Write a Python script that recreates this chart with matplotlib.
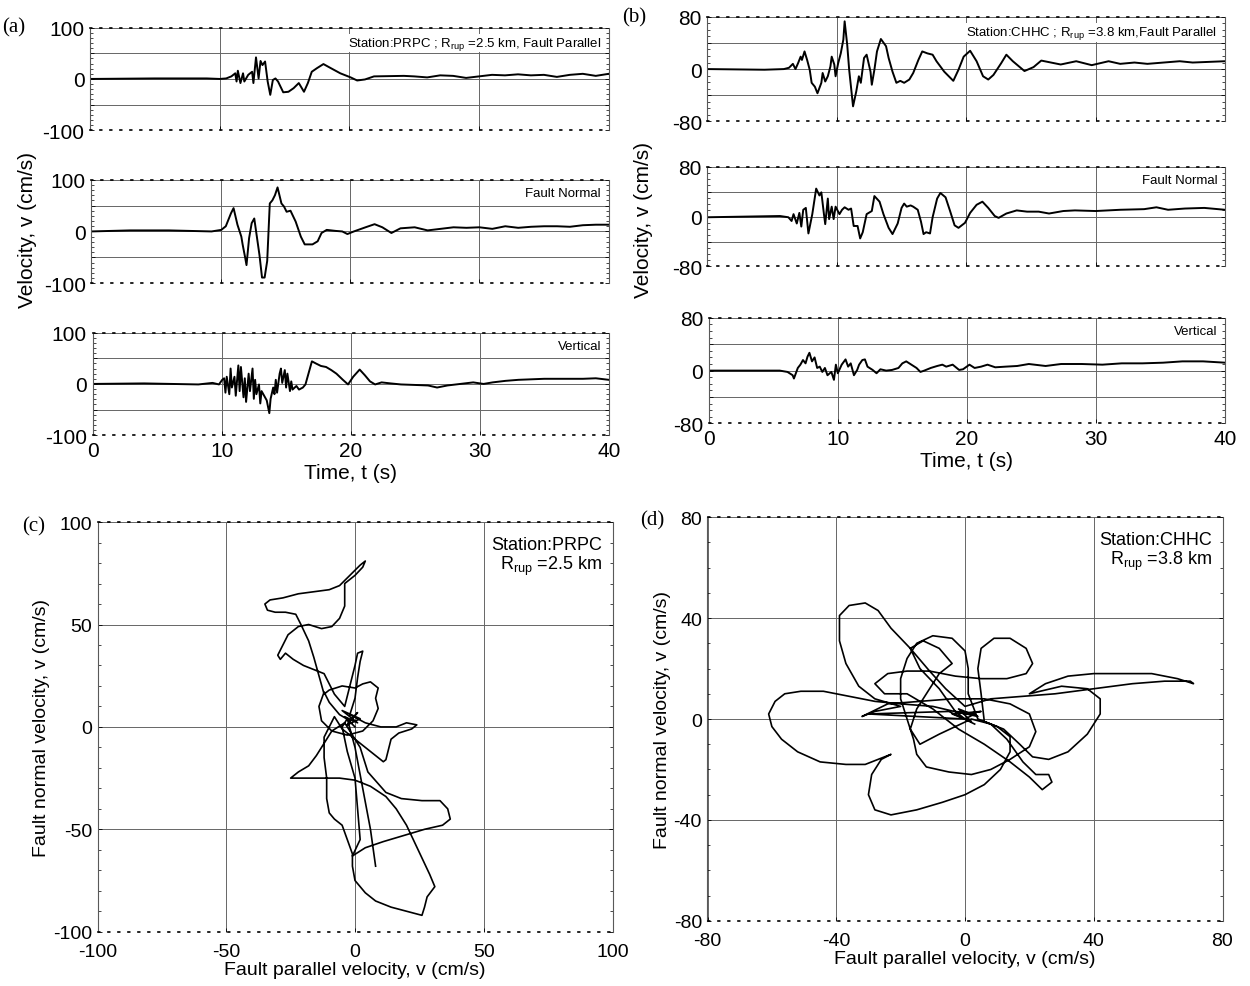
import matplotlib
matplotlib.use("Agg")
import matplotlib.pyplot as plt

plt.rcParams['font.family'] = ['Liberation Sans', 'DejaVu Sans']
plt.rcParams['mathtext.fontset'] = 'custom'
plt.rcParams['mathtext.rm'] = 'Liberation Sans'
plt.rcParams['mathtext.default'] = 'rm'
plt.rcParams['axes.unicode_minus'] = False

# ---- (a) station PRPC, velocity time histories (cm/s) ----
a_fp_t = [0, 5, 9, 10, 10.5, 10.9, 11.2, 11.3, 11.4, 11.6, 11.8, 11.9, 12.2, 12.5, 12.6, 12.8, 13.0, 13.15, 13.3, 13.5,
          13.7, 13.9, 14.1, 14.3, 14.5, 14.9, 15.3, 15.7, 16.1, 16.5, 16.8, 17.1, 17.5, 18.0, 18.5, 19.3, 20.1, 20.6, 21.2, 21.9,
          24.2, 25, 26, 27, 28, 29, 30, 31, 32, 33, 34, 35, 36, 37, 38, 39, 40]
a_fp_v = [0, 1, 1, 0, 1, 5, 11, -5, 16, -8, 11, -5, 8, 14, -8, 42, 1, 35, 27, 34,
          -5, -31, -2, 1, -5, -26, -25, -18, -8, -25, -8, 14, 21, 29, 22, 11, 3, -3, -1, 5,
          6, 5, 3, 7, 6, 2, 5, 8, 7, 9, 7, 8, 4, 8, 10, 6, 10]

a_fn_t = [0, 3, 6, 9.3, 10.05, 10.4, 10.8, 11.0, 11.3, 11.6, 11.7, 11.9, 12.0, 12.2, 12.4, 12.6, 12.8, 13.0, 13.2, 13.4,
          13.6, 13.8, 14.0, 14.2, 14.4, 14.7, 14.9, 15.1, 15.4, 15.8, 16.2, 16.5, 17.1, 17.5, 17.8, 18.2, 18.9, 19.4, 19.8, 20.3,
          21.2, 21.9, 22.5, 23.2, 23.9, 25, 26, 27, 28, 29, 30, 31, 32, 33, 34, 35, 36, 37, 38, 39, 40]
a_fn_v = [0, 2, 2, 0, 3, 10, 35, 45, 13, -10, -25, -51, -65, -13, 16, 25, -10, -45, -89, -89,
          -57, 54, 60, 70, 85, 54, 48, 38, 40, 19, -10, -25, -25, -19, -3, 3, 1, 0, -5, 0,
          8, 14, 8, -3, 6, 8, 2, 5, 8, 7, 8, 5, 10, 7, 9, 10, 10, 9, 12, 13, 13]

a_up_t = [0, 4, 8.2, 9.3, 9.8, 10.05, 10.2, 10.3, 10.4, 10.6, 10.7, 10.8, 11.0, 11.1, 11.3, 11.4, 11.5, 11.7, 11.8, 11.9,
          12.1, 12.2, 12.4, 12.5, 12.6, 12.7, 12.9, 13.0, 13.1, 13.3, 13.5, 13.7, 13.8, 14.0, 14.1, 14.2, 14.3, 14.5, 14.6, 14.7,
          14.9, 15.0, 15.1, 15.3, 15.4, 15.5, 15.8, 16.0, 16.3, 16.5, 16.7, 17.0, 17.3, 17.7, 18.1, 18.5, 18.9, 19.4, 19.8, 20.2,
          20.7, 21.1, 21.5, 21.9, 22.4, 23.1, 23.9, 25, 26, 26.7, 27.5, 28.5, 29.5, 30.3, 31, 32, 33, 34, 35, 36,
          37, 38, 39, 40]
a_up_v = [0, 1, -1, 2, -1, 8, 11, -17, 14, -20, 30, -7, 14, -23, 36, -14, 33, -26, 11, -35,
          20, -14, 30, -29, 8, -20, -1, -38, -14, -23, -32, -57, -29, -7, -20, 8, -17, 20, 30, 2,
          27, -7, 20, -14, 5, -11, -4, -11, -7, -1, 17, 44, 40, 35, 33, 27, 20, 8, -1, 14,
          28, 17, 5, -1, 3, 1, -1, -2, -3, -7, -3, 0, 3, 0, 3, 6, 8, 9, 10, 10,
          10, 10, 11, 8]

# ---- (b) station CHHC ----
b_fp_t = [0, 4.4, 5.9, 6.3, 6.6, 6.8, 7.0, 7.2, 7.3, 7.5, 7.7, 7.9, 8.05, 8.3, 8.5, 8.8, 8.9, 9.1, 9.3, 9.5,
          9.6, 9.8, 9.9, 10.1, 10.3, 10.5, 10.6, 10.8, 10.95, 11.1, 11.25, 11.5, 11.7, 11.85, 12.1, 12.3, 12.6, 12.7, 12.9, 13.1,
          13.4, 13.8, 14.0, 14.3, 14.6, 14.9, 15.2, 15.6, 15.9, 16.3, 16.6, 17.0, 17.4, 17.7, 18.3, 18.8, 19.0, 19.4, 19.8, 20.3,
          20.8, 21.3, 21.7, 22.1, 22.7, 23.1, 23.6, 24.2, 24.5, 25.2, 25.8, 27.3, 28.5, 29.7, 31, 31.9, 33, 34, 36.5, 37.5,
          40]
b_fp_v = [0, -1, 0, 2, 8, 0, 9, 19, 14, 27, 14, -1, -21, -27, -37, -21, -6, -19, -11, 4,
          19, 7, -11, 9, 24, 45, 73, 37, -1, -29, -57, -34, -11, -21, 17, 22, -4, -24, -1, 27,
          46, 35, 17, -4, -21, -18, -21, -16, -6, 14, 27, 24, 22, 12, -4, -14, -18, -1, 19, 28,
          12, -11, -16, -9, 9, 22, 12, 2, -3, 3, 13, 7, 12, 6, 12, 8, 10, 8, 12, 10,
          12]

b_fn_t = [0, 5.6, 6.25, 6.5, 6.65, 6.9, 7.1, 7.25, 7.4, 7.6, 7.8, 8.1, 8.4, 8.65, 8.8, 9.0, 9.1, 9.3, 9.4, 9.6,
          9.75, 9.9, 10.2, 10.4, 10.6, 10.9, 11.1, 11.3, 11.6, 11.8, 12.0, 12.3, 12.7, 12.9, 13.3, 13.6, 14.0, 14.3, 14.7, 15.0,
          15.2, 15.4, 15.7, 15.9, 16.25, 16.5, 16.7, 16.9, 17.2, 17.4, 17.75, 18.0, 18.4, 18.75, 19.1, 19.4, 19.9, 20.3, 20.8, 21.25,
          21.7, 22.2, 22.5, 23.1, 23.9, 24.7, 25.6, 26.4, 27.5, 28.4, 30, 31.9, 33.75, 34.7, 35.6, 36.9, 38.4, 40]
b_fn_v = [-1, 1, -1, -7, 4, -11, 6, -16, 11, 14, -27, 4, 45, 34, 39, 4, -12, 29, -4, 16,
          -4, 16, 4, 11, 15, 11, 13, -15, -15, -35, -25, 4, 9, 33, 24, 4, -18, -28, -11, 14,
          21, 16, 18, 16, 11, -8, -28, -25, -27, -1, 29, 38, 31, 9, -14, -18, -10, 6, 19, 24,
          14, 1, -2, 5, 10, 8, 8, 5, 9, 10, 9, 11, 12, 15, 11, 13, 14, 11]

b_up_t = [0, 5.5, 6.1, 6.5, 6.6, 6.9, 7.1, 7.3, 7.5, 7.65, 7.8, 8.0, 8.2, 8.4, 8.6, 8.8, 9.0, 9.2, 9.5, 9.7,
          9.85, 10.0, 10.3, 10.6, 10.8, 11.0, 11.25, 11.5, 11.65, 11.9, 12.1, 12.3, 12.7, 13.0, 13.3, 13.75, 14.2, 14.7, 15.0, 15.3,
          15.7, 16.1, 16.4, 16.7, 17.2, 17.7, 18.1, 18.4, 18.9, 19.4, 19.7, 20.2, 20.6, 21.1, 21.6, 22.2, 23.0, 23.9, 24.8, 26.1,
          27.3, 28.9, 30.5, 32, 33.6, 35.2, 36.7, 38.3, 40]
b_up_v = [0, 0, -2, -7, -12, 4, 9, 16, 11, 21, 27, 14, 20, 4, 6, -2, 4, -7, -2, -14,
          9, -4, 9, 17, 6, 11, -7, 1, 9, 16, 17, 6, 1, -4, 2, 0, 1, 4, 11, 14,
          9, 4, -2, 0, 4, 7, 9, 6, 9, 1, 2, 9, 4, 6, 9, 5, 6, 7, 10, 7,
          10, 10, 9, 11, 11, 12, 14, 14, 12]

# ---- (c) PRPC particle motion (fault parallel, fault normal) ----
c_fp = [0, -4, 1, -5, 2, -3, 1, -2, -6, -10, -12, -14, -13, -9, -3, 3, 7, 9, 8, 9,
        6, 3, 0, -5, -10, -12, -14, -16, -18, -21, -23, -27, -31, -34, -35, -33, -28, -22, -16, -10,
        -6, -2, 2, 4, 3, 0, -4, -4, -4, -6, -9, -13, -18, -22, -26, -28, -30, -29, -27, -24,
        -20, -16, -12, -10, -8, -4, -2, 0, 1, 3, 2, 1, 0, -2, 4, 10, 16, 20, 24, 22,
        17, 14, 13, 12, 11, 6, 0, -5, -8, -12, -12, -11, -11, -10, -8, -5, -3, -1, -1, 0,
        4, 8, 14, 20, 26, 27, 28, 31, 29, 26, 23, 20, 16, 12, 6, 0, -6, -14, -20, -25,
        -22, -18, -15, -12, -9, -4, 2, 5, 12, 18, 26, 33, 36, 37, 34, 27, 19, 11, 4, -1,
        2, 1, 0, -3, -5, -3, 0, 3, 6, 8]
c_fn = [0, 5, 2, 8, 4, 1, 7, 3, 6, 12, 17, 10, 3, -2, -4, -2, 3, 9, 14, 19,
        22, 21, 19, 20, 18, 16, 25, 34, 42, 50, 55, 56, 56, 57, 60, 62, 63, 65, 66, 67,
        69, 74, 79, 81, 78, 74, 70, 64, 59, 53, 49, 48, 50, 49, 45, 40, 35, 33, 36, 33,
        30, 28, 26, 21, 16, 10, 20, 30, 36, 37, 32, 24, 14, 6, 2, 0, 0, 2, 1, -1,
        -3, -6, -11, -16, -17, -12, -6, -1, 5, -5, -15, -25, -35, -42, -45, -48, -55, -62, -68, -75,
        -81, -85, -88, -90, -92, -88, -83, -78, -72, -64, -56, -48, -40, -34, -29, -26, -25, -25, -25, -25,
        -22, -19, -14, -8, -2, 2, -10, -22, -32, -35, -36, -36, -40, -45, -48, -50, -53, -56, -59, -63,
        -55, -40, -25, -12, 0, 4, -10, -30, -50, -68]

# ---- (d) CHHC particle motion ----
d_fp = [0, 3, -3, 4, -2, 2, -4, 5, 0, -10, -20, -28, -36, -44, -51, -56, -59, -61, -60, -57,
        -52, -45, -37, -31, -27, -23, -26, -29, -30, -28, -23, -15, -7, 0, 6, 11, 14, 14, 10, 4,
        1, 1, 0, -4, -10, -15, -18, -20, -20, -18, -16, -15, -12, -5, 2, 8, 14, 20, 22, 20,
        14, 6, -4, -14, -24, -32, -28, -20, -28, -33, -37, -39, -39, -36, -31, -27, -23, -17, -11, -6,
        0, 8, 18, 28, 40, 52, 62, 70, 71, 66, 58, 48, 40, 32, 25, 20, 30, 38, 42, 42,
        38, 32, 26, 21, 17, 12, 6, 5, 4, 5, 9, 14, 19, 21, 19, 13, 5, -3, -11, -18,
        -24, -28, -25, -18, -10, -2, 6, 14, 20, 24, 27, 26, 22, 18, 13, 8, 2, -8, -14, -17,
        -15, -12, -8, -4, -8, -13, -17, -14, -8, -3, 0, -30, -5, 3]
d_fn = [0, 2, 3, 1, 4, -1, 2, 3, 2, 5, 6, 7, 9, 11, 11, 10, 7, 2, -3, -8,
        -13, -17, -18, -18, -16, -14, -16, -22, -30, -36, -38, -36, -33, -30, -26, -20, -13, -7, -3, 0,
        10, 20, 27, 32, 33, 30, 24, 16, 8, 0, -8, -14, -19, -21, -22, -20, -16, -11, -5, 2,
        6, 8, 8, 7, 6, 1, 3, 5, 8, 13, 22, 31, 41, 45, 46, 43, 36, 28, 19, 12,
        5, 8, 9, 10, 12, 14, 15, 15, 14, 16, 18, 18, 18, 17, 14, 10, 13, 12, 8, 2,
        -6, -13, -16, -15, -10, -4, -1, 10, 20, 28, 32, 32, 28, 22, 18, 16, 16, 17, 19, 19,
        18, 14, 10, 10, 4, -4, -10, -17, -23, -28, -25, -22, -22, -17, -8, -2, 0, -6, -10, -4,
        4, 10, 18, 22, 28, 31, 28, 20, 12, 3, 0, 2, 3, -2]

ts_panels = [
    # (data t, data v, ylimit, label, rect)
    (a_fp_t, a_fp_v, 100, 'Station:PRPC ; R$_{rup}$ =2.5 km, Fault Parallel', [0.072, 0.867, 0.415, 0.104]),
    (a_fn_t, a_fn_v, 100, 'Fault Normal', [0.073, 0.712, 0.414, 0.105]),
    (a_up_t, a_up_v, 100, 'Vertical', [0.074, 0.558, 0.413, 0.104]),
    (b_fp_t, b_fp_v, 80, 'Station:CHHC ; R$_{rup}$ =3.8 km,Fault Parallel', [0.566, 0.876, 0.414, 0.106]),
    (b_fn_t, b_fn_v, 80, 'Fault Normal', [0.566, 0.729, 0.414, 0.101]),
    (b_up_t, b_up_v, 80, 'Vertical', [0.567, 0.570, 0.413, 0.107]),
]

fig = plt.figure(figsize=(12.5, 9.87), dpi=100)


def frame(ax, size=15):
    for s in ['top', 'bottom']:
        ax.spines[s].set_linestyle((0, (1, 5)))
        ax.spines[s].set_linewidth(1.2)
    for s in ['left', 'right']:
        ax.spines[s].set_color('0.35')
        ax.spines[s].set_linewidth(0.8)
    ax.grid(True, color='0.4', lw=0.7)
    ax.tick_params(direction='in', length=3, width=0.6, labelsize=size, pad=4,
                   right=True, top=False)
    ax.minorticks_on()
    ax.tick_params(which='minor', direction='in', length=2, width=0.5, right=True, bottom=False)


for i, (t, v, lim, txt, rect) in enumerate(ts_panels):
    ax = fig.add_axes(rect)
    ax.plot(t, v, color='black', lw=1.4)
    ax.set_xlim(0, 40)
    ax.set_ylim(-lim, lim)
    ax.set_xticks([0, 10, 20, 30, 40])
    ax.set_yticks([-lim, -lim / 2, 0, lim / 2, lim])
    ax.set_yticklabels([str(-lim), '', '0', '', str(lim)])
    frame(ax)
    if i % 3 == 2:
        ax.set_xlabel('Time, t (s)', fontsize=15, labelpad=2)
    else:
        ax.set_xticklabels([])
    ax.text(0.985, 0.93, txt, transform=ax.transAxes, ha='right', va='top', fontsize=9.5,
            bbox=dict(facecolor='white', edgecolor='none', pad=0.5))

fig.text(0.022, 0.767, 'Velocity, v (cm/s)', rotation=90, ha='center', va='center', fontsize=15)
fig.text(0.515, 0.777, 'Velocity, v (cm/s)', rotation=90, ha='center', va='center', fontsize=15)

# hodograms
axc = fig.add_axes([0.078, 0.055, 0.412, 0.415])
axc.plot(c_fp, c_fn, color='black', lw=1.2)
axc.set_xlim(-100, 100)
axc.set_ylim(-100, 100)
axc.set_xticks([-100, -50, 0, 50, 100])
axc.set_yticks([-100, -50, 0, 50, 100])
frame(axc, 14)
axc.tick_params(axis='x', pad=8)
axc.set_xlabel('Fault parallel velocity, v (cm/s)', fontsize=14, labelpad=1)
axc.set_ylabel('Fault normal velocity, v (cm/s)', fontsize=14, labelpad=2)
axc.text(0.98, 0.965, 'Station:PRPC\nR$_{rup}$ =2.5 km', transform=axc.transAxes,
         ha='right', va='top', fontsize=13, linespacing=1.0)

axd = fig.add_axes([0.566, 0.066, 0.412, 0.409])
axd.plot(d_fp, d_fn, color='black', lw=1.2)
axd.set_xlim(-80, 80)
axd.set_ylim(-80, 80)
axd.set_xticks([-80, -40, 0, 40, 80])
axd.set_yticks([-80, -40, 0, 40, 80])
frame(axd, 14)
axd.tick_params(axis='x', pad=8)
axd.set_xlabel('Fault parallel velocity, v (cm/s)', fontsize=14, labelpad=1)
axd.set_ylabel('Fault normal velocity, v (cm/s)', fontsize=14, labelpad=2)
axd.text(0.98, 0.965, 'Station:CHHC\nR$_{rup}$ =3.8 km', transform=axd.transAxes,
         ha='right', va='top', fontsize=13, linespacing=1.0)

for lab, x, y in [('(a)', 0.002, 0.972), ('(b)', 0.498, 0.982), ('(c)', 0.018, 0.466), ('(d)', 0.512, 0.472)]:
    fig.text(x, y, lab, fontsize=15, family='Liberation Serif', ha='left', va='center')

fig.savefig('out.png', dpi=100)
